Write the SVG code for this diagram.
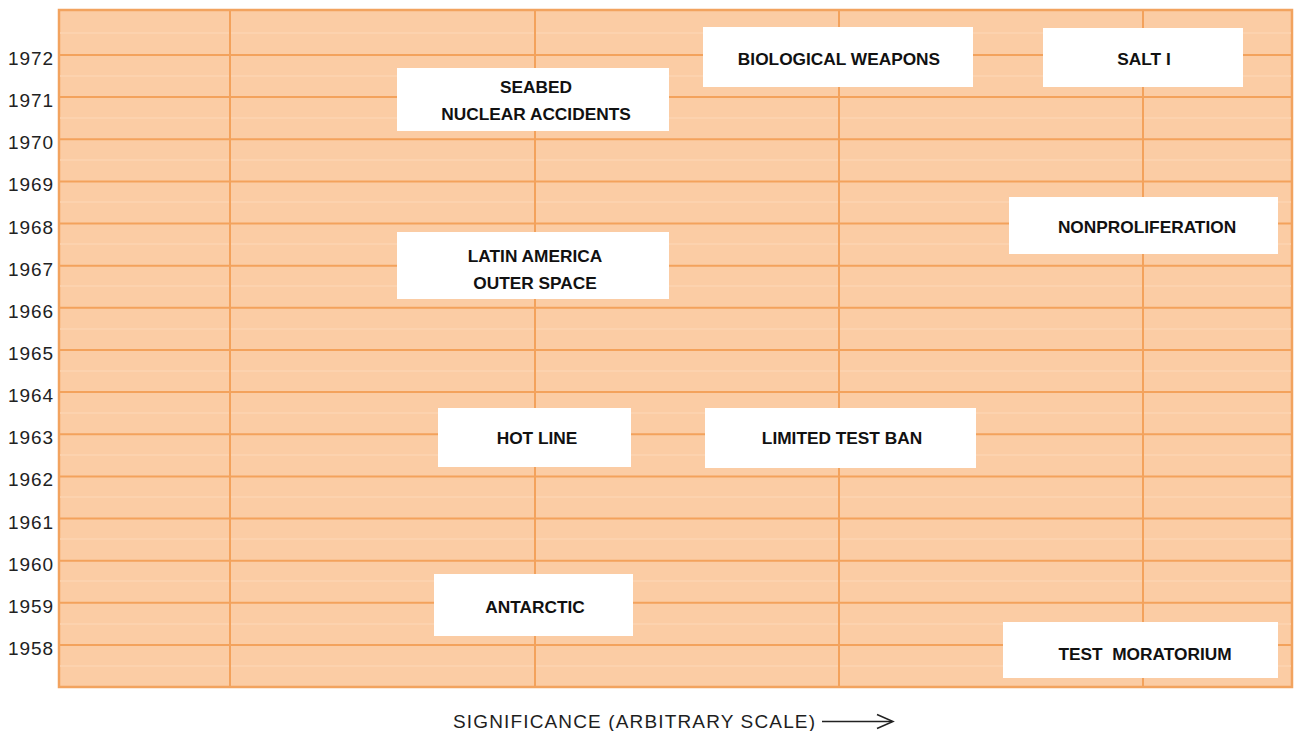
<svg xmlns="http://www.w3.org/2000/svg" width="1297" height="731" viewBox="0 0 1297 731">
<style>
.bg{fill:#fbcca4;stroke:#f2a35f;stroke-width:2.5}
.grid line{stroke:#f3a25c;stroke-width:2}
.faint line{stroke:#fcd4b2;stroke-width:1.5}
.yr{font-family:"Liberation Sans",Arial,sans-serif;font-size:19px;fill:#222;text-anchor:end}
.box rect{fill:#ffffff}
.box text{font-family:"Liberation Sans",Arial,sans-serif;font-size:17.3px;font-weight:bold;fill:#111;text-anchor:middle}
.axis{font-family:"Liberation Sans",Arial,sans-serif;font-size:19px;fill:#1e1e1e}
</style>
<rect width="1297" height="731" fill="#ffffff"/>
<g id="chart">
<rect class="bg" x="59" y="10" width="1233" height="677"/>
<g class="faint">
<line x1="60" y1="33" x2="1291" y2="33"/>
<line x1="60" y1="76" x2="1291" y2="76"/>
<line x1="60" y1="118" x2="1291" y2="118"/>
<line x1="60" y1="160" x2="1291" y2="160"/>
<line x1="60" y1="202" x2="1291" y2="202"/>
<line x1="60" y1="244" x2="1291" y2="244"/>
<line x1="60" y1="286" x2="1291" y2="286"/>
<line x1="60" y1="329" x2="1291" y2="329"/>
<line x1="60" y1="371" x2="1291" y2="371"/>
<line x1="60" y1="413" x2="1291" y2="413"/>
<line x1="60" y1="455" x2="1291" y2="455"/>
<line x1="60" y1="497" x2="1291" y2="497"/>
<line x1="60" y1="539" x2="1291" y2="539"/>
<line x1="60" y1="581" x2="1291" y2="581"/>
<line x1="60" y1="624" x2="1291" y2="624"/>
<line x1="60" y1="666" x2="1291" y2="666"/>
</g>
<g class="grid">
<line x1="60" y1="55" x2="1291" y2="55"/>
<line x1="60" y1="97.1" x2="1291" y2="97.1"/>
<line x1="60" y1="139.3" x2="1291" y2="139.3"/>
<line x1="60" y1="181.4" x2="1291" y2="181.4"/>
<line x1="60" y1="223.6" x2="1291" y2="223.6"/>
<line x1="60" y1="265.7" x2="1291" y2="265.7"/>
<line x1="60" y1="307.8" x2="1291" y2="307.8"/>
<line x1="60" y1="350" x2="1291" y2="350"/>
<line x1="60" y1="392.1" x2="1291" y2="392.1"/>
<line x1="60" y1="434.3" x2="1291" y2="434.3"/>
<line x1="60" y1="476.4" x2="1291" y2="476.4"/>
<line x1="60" y1="518.5" x2="1291" y2="518.5"/>
<line x1="60" y1="560.7" x2="1291" y2="560.7"/>
<line x1="60" y1="602.8" x2="1291" y2="602.8"/>
<line x1="60" y1="645" x2="1291" y2="645"/>
<line x1="230" y1="11" x2="230" y2="686"/>
<line x1="535" y1="11" x2="535" y2="686"/>
<line x1="839" y1="11" x2="839" y2="686"/>
<line x1="1143" y1="11" x2="1143" y2="686"/>
</g>
</g>
<g id="years">
<text class="yr" x="53" y="65" textLength="45" lengthAdjust="spacing">1972</text>
<text class="yr" x="53" y="107.1" textLength="45" lengthAdjust="spacing">1971</text>
<text class="yr" x="53" y="149.3" textLength="45" lengthAdjust="spacing">1970</text>
<text class="yr" x="53" y="191.4" textLength="45" lengthAdjust="spacing">1969</text>
<text class="yr" x="53" y="233.6" textLength="45" lengthAdjust="spacing">1968</text>
<text class="yr" x="53" y="275.7" textLength="45" lengthAdjust="spacing">1967</text>
<text class="yr" x="53" y="317.8" textLength="45" lengthAdjust="spacing">1966</text>
<text class="yr" x="53" y="360" textLength="45" lengthAdjust="spacing">1965</text>
<text class="yr" x="53" y="402.1" textLength="45" lengthAdjust="spacing">1964</text>
<text class="yr" x="53" y="444.3" textLength="45" lengthAdjust="spacing">1963</text>
<text class="yr" x="53" y="486.4" textLength="45" lengthAdjust="spacing">1962</text>
<text class="yr" x="53" y="528.5" textLength="45" lengthAdjust="spacing">1961</text>
<text class="yr" x="53" y="570.7" textLength="45" lengthAdjust="spacing">1960</text>
<text class="yr" x="53" y="612.8" textLength="45" lengthAdjust="spacing">1959</text>
<text class="yr" x="53" y="655" textLength="45" lengthAdjust="spacing">1958</text>
</g>
<g id="connectors"></g>
<g id="node-biological" class="box"><rect x="703" y="27" width="270" height="60"/><text x="839" y="65">BIOLOGICAL WEAPONS</text></g>
<g id="node-salt" class="box"><rect x="1043" y="28" width="200" height="59"/><text x="1144" y="65">SALT I</text></g>
<g id="node-seabed" class="box"><rect x="397" y="68" width="272" height="63"/><text x="536" y="93">SEABED</text><text x="536" y="120">NUCLEAR ACCIDENTS</text></g>
<g id="node-nonproliferation" class="box"><rect x="1009" y="197" width="269" height="57"/><text x="1147" y="233">NONPROLIFERATION</text></g>
<g id="node-latin" class="box"><rect x="397" y="232" width="272" height="67"/><text x="535" y="262">LATIN AMERICA</text><text x="535" y="289">OUTER SPACE</text></g>
<g id="node-hotline" class="box"><rect x="438" y="408" width="193" height="59"/><text x="537" y="444">HOT LINE</text></g>
<g id="node-limited" class="box"><rect x="705" y="408" width="271" height="60"/><text x="842" y="444">LIMITED TEST BAN</text></g>
<g id="node-antarctic" class="box"><rect x="434" y="574" width="199" height="62"/><text x="535" y="613">ANTARCTIC</text></g>
<g id="node-moratorium" class="box"><rect x="1003" y="622" width="275" height="56"/><text x="1145" y="660" xml:space="preserve">TEST  MORATORIUM</text></g>
<g id="axis-label">
<text class="axis" x="453" y="728" textLength="362" lengthAdjust="spacing">SIGNIFICANCE (ARBITRARY SCALE)</text>
<line x1="822" y1="721.5" x2="892" y2="721.5" stroke="#222" stroke-width="1.5"/>
<polyline points="877,714.5 893,721.5 877,728.5" fill="none" stroke="#222" stroke-width="1.5"/>
</g>
</svg>
